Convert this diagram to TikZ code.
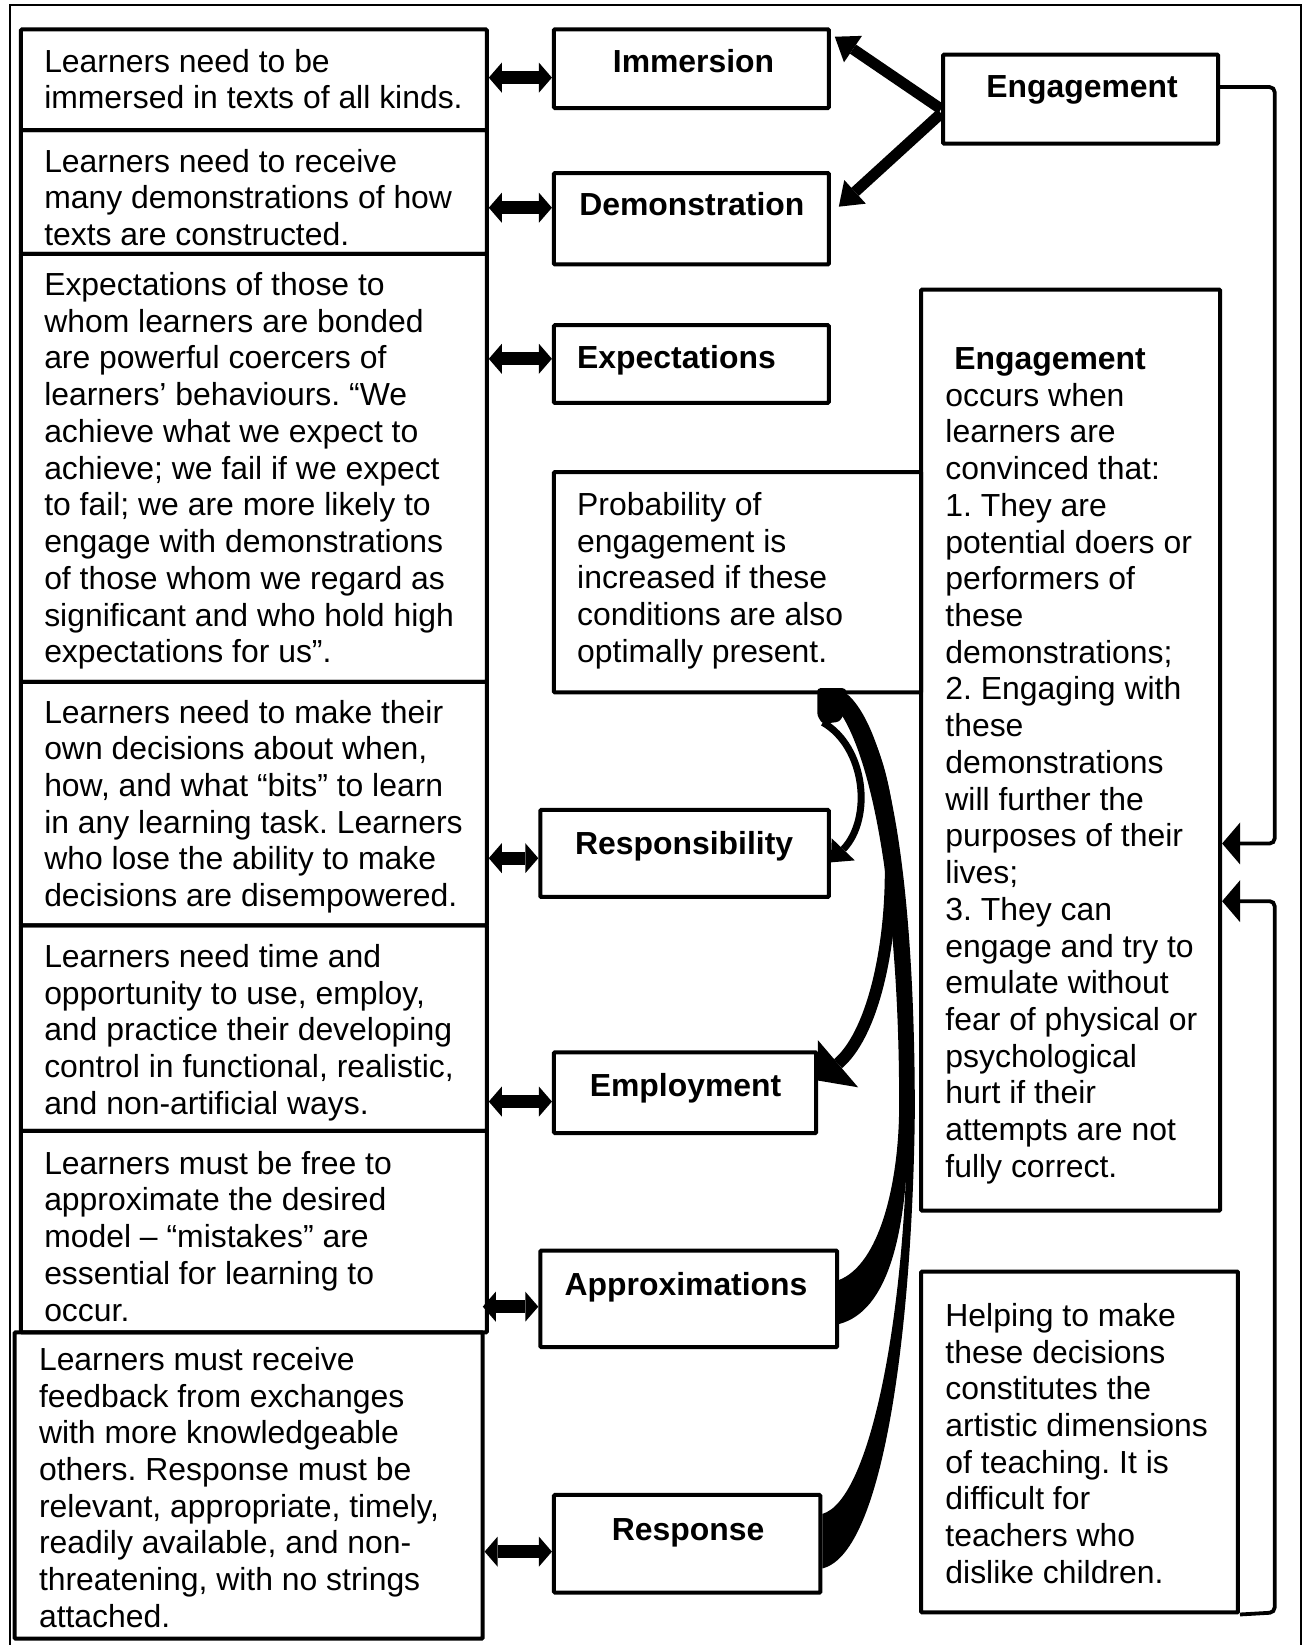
\documentclass[tikz,border=0pt]{standalone}
\usepackage{fontspec}
\setmainfont{Liberation Sans}
\usetikzlibrary{arrows.meta,fit,calc}
\frenchspacing

\tikzset{
  box/.style={draw, line width=4pt, inner sep=0pt, rounded corners=1pt},
  txt/.style={anchor=north west, inner sep=0pt, align=left, yshift=25.7pt,
              font=\fontsize{31.9pt}{36.72pt}\selectfont},
  lbl/.style={txt, font=\fontsize{31.9pt}{36.72pt}\selectfont\bfseries},
  dbl/.style={line width=13pt,
    {Triangle[width=30pt,length=13pt,line width=0pt]}-{Triangle[width=30pt,length=13pt,line width=0pt]}},
  earr/.style={line width=11pt, -{Triangle[width=32pt,length=22pt,line width=0pt]}},
  conn/.style={line width=3.8pt, rounded corners=5pt,
    -{Triangle[width=42pt,length=18pt,line width=0pt]}},
  outerframe/.style={line width=2pt}
}

\begin{document}
\begin{tikzpicture}[x=1.04911pt, y=-1.04911pt]
\useasboundingbox (0,0) rectangle (1242,1568);

% page frame
\draw[outerframe] (9.2,1590) -- (9.2,4.8) -- (1240.5,4.8) -- (1240.5,1590);

% left column: descriptions
\node[box, fit={(20,28) (464,124)}]   (L1) {};
\node[box, fit={(20,124) (464,242)}]  (L2) {};
\node[box, fit={(20,242) (464,650)}]  (L3) {};
\node[box, fit={(20,650) (464,882)}]  (L4) {};
\node[box, fit={(20,882) (464,1078)}] (L5) {};
\node[box, fit={(20,1078) (464,1270)}] (L6) {};
\node[box, fit={(14,1270) (460,1562)}] (L7) {};

\node[txt] (tL1) at (42,68.5) {\strut Learners need to be\\immersed in texts of all kinds.};
\node[txt] (tL2) at (42,164) {\strut Learners need to receive\\many demonstrations of how\\texts are constructed.};
\node[txt] (tL3) at (42,281.5) {\strut Expectations of those to\\whom learners are bonded\\are powerful coercers of\\learners’ behaviours. “We\\achieve what we expect to\\achieve; we fail if we expect\\to fail; we are more likely to\\engage with demonstrations\\of those whom we regard as\\significant and who hold high\\expectations for us”.};
\node[txt] (tL4) at (42,689) {\strut Learners need to make their\\own decisions about when,\\how, and what “bits” to learn\\in any learning task. Learners\\who lose the ability to make\\decisions are disempowered.};
\node[txt] (tL5) at (42,922) {\strut Learners need time and\\opportunity to use, employ,\\and practice their developing\\control in functional, realistic,\\and non-artificial ways.};
\node[txt] (tL6) at (42,1119) {\strut Learners must be free to\\approximate the desired\\model – “mistakes” are\\essential for learning to\\occur.};
\node[txt] (tL7) at (37,1306) {\strut Learners must receive\\feedback from exchanges\\with more knowledgeable\\others. Response must be\\relevant, appropriate, timely,\\readily available, and non-\\threatening, with no strings\\attached.};

% middle column: conditions
\node[box, fit={(528,28) (790,103)}]    (imm)  {};
\node[box, fit={(528,165) (790,252)}]   (dem)  {};
\node[box, fit={(528,310) (790,384)}]   (exp)  {};
\node[box, fit={(528,450) (878,660)}]   (prob) {};
\node[box, fit={(515,772) (790,855)}]   (resp) {};
\node[box, fit={(528,1003) (778,1080)}] (empl) {};
\node[box, fit={(515,1192) (798,1284)}] (appr) {};
\node[box, fit={(528,1425) (782,1518)}] (rspn) {};

\node[lbl] (timm)  at (584,69)   {\strut Immersion};
\node[lbl] (tdem)  at (552,205)  {\strut Demonstration};
\node[lbl] (texp)  at (550,351)  {\strut Expectations};
\node[txt] (tprob) at (550,491)  {\strut Probability of\\engagement is\\increased if these\\conditions are also\\optimally present.};
\node[lbl] (tresp) at (548,814)  {\strut Responsibility};
\node[lbl] (templ) at (562,1045) {\strut Employment};
\node[lbl] (tappr) at (538,1235) {\strut Approximations};
\node[lbl] (trspn) at (583,1468) {\strut Response};

% right column
\node[box, fit={(899,52) (1161,137)}]    (eng)  {};
\node[box, fit={(878,276) (1163,1154)}]  (engt) {};
\node[box, fit={(878,1212) (1180,1537)}] (help) {};

\node[lbl] (teng) at (940,93) {\strut Engagement};
\node[txt] (tengt) at (901,352) {\strut\hspace*{8.9pt}{\bfseries Engagement}\\occurs when\\learners are\\convinced that:\\1. They are\\potential doers or\\performers of\\these\\demonstrations;\\2. Engaging with\\these\\demonstrations\\will further the\\purposes of their\\lives;\\3. They can\\engage and try to\\emulate without\\fear of physical or\\psychological\\hurt if their\\attempts are not\\fully correct.};
\node[txt] (thelp) at (901,1264) {\strut Helping to make\\these decisions\\constitutes the\\artistic dimensions\\of teaching. It is\\difficult for\\teachers who\\dislike children.};

% two-way links between descriptions and conditions
\draw[dbl] (L1.east |- 0,74)   -- (imm.west |- 0,74);
\draw[dbl] (L2.east |- 0,198)  -- (dem.west |- 0,198);
\draw[dbl] (L3.east |- 0,342)  -- (exp.west |- 0,342);
\draw[dbl] (L4.east |- 0,818)  -- (resp.west |- 0,818);
\draw[dbl] (L5.east |- 0,1050) -- (empl.west |- 0,1050);
\draw[dbl] ([xshift=-6pt]L6.east |- 0,1245.5) -- (appr.west |- 0,1245.5);
\draw[dbl] (L7.east |- 0,1479) -- (rspn.west |- 0,1479);

% engagement draws on immersion and demonstration
\draw[earr] (eng.west |- 0,104) -- ([xshift=4pt]imm.east |- 0,35);
\draw[earr] (eng.west |- 0,108) -- ([xshift=8pt]dem.east |- 0,197);

% loops back into the engagement conditions
\draw[conn] (eng.east |- 0,83) -- (1215,83) -- (1215,804) -- (engt.east |- 0,804);
\draw[conn] (help.south east) -- (1215,1537) -- (1215,859) -- (engt.east |- 0,859);

% curved arrows from the probability box
\coordinate (src) at (792,660);
\fill[rounded corners=3pt] (779,656) -- (806,656) -- (810,672) -- (800,688) -- (784,690) -- (779,682) -- cycle;
\draw[line width=7pt, -{Triangle[width=32pt,length=18pt,line width=0pt]}]
  ([xshift=-8pt,yshift=-30pt]src) .. controls (825,712) and (832,780) .. (resp.east |- 0,822);
\draw[line width=12pt, -{Triangle[width=62pt,length=26pt,line width=0pt]}]
  ([xshift=6pt,yshift=-12pt]src) .. controls (870,710) and (862,960) .. (empl.east |- 0,1030);
% band into Approximations
\fill (805,662) .. controls (848,700) and (866,850) .. (866,1060)
  .. controls (866,1180) and (845,1250) .. (appr.east |- 0,1262)
  -- (appr.east |- 0,1220)
  .. controls (838,1205) and (856,1130) .. (857,1060)
  .. controls (858,880) and (835,712) .. (792,668) -- cycle;
% band into Response
\fill (808,662) .. controls (850,700) and (872,850) .. (872,1060)
  .. controls (870,1250) and (845,1480) .. (rspn.east |- 0,1495)
  -- (rspn.east |- 0,1443)
  .. controls (830,1430) and (864,1250) .. (865,1060)
  .. controls (866,880) and (840,712) .. (795,668) -- cycle;
\end{tikzpicture}
\end{document}
